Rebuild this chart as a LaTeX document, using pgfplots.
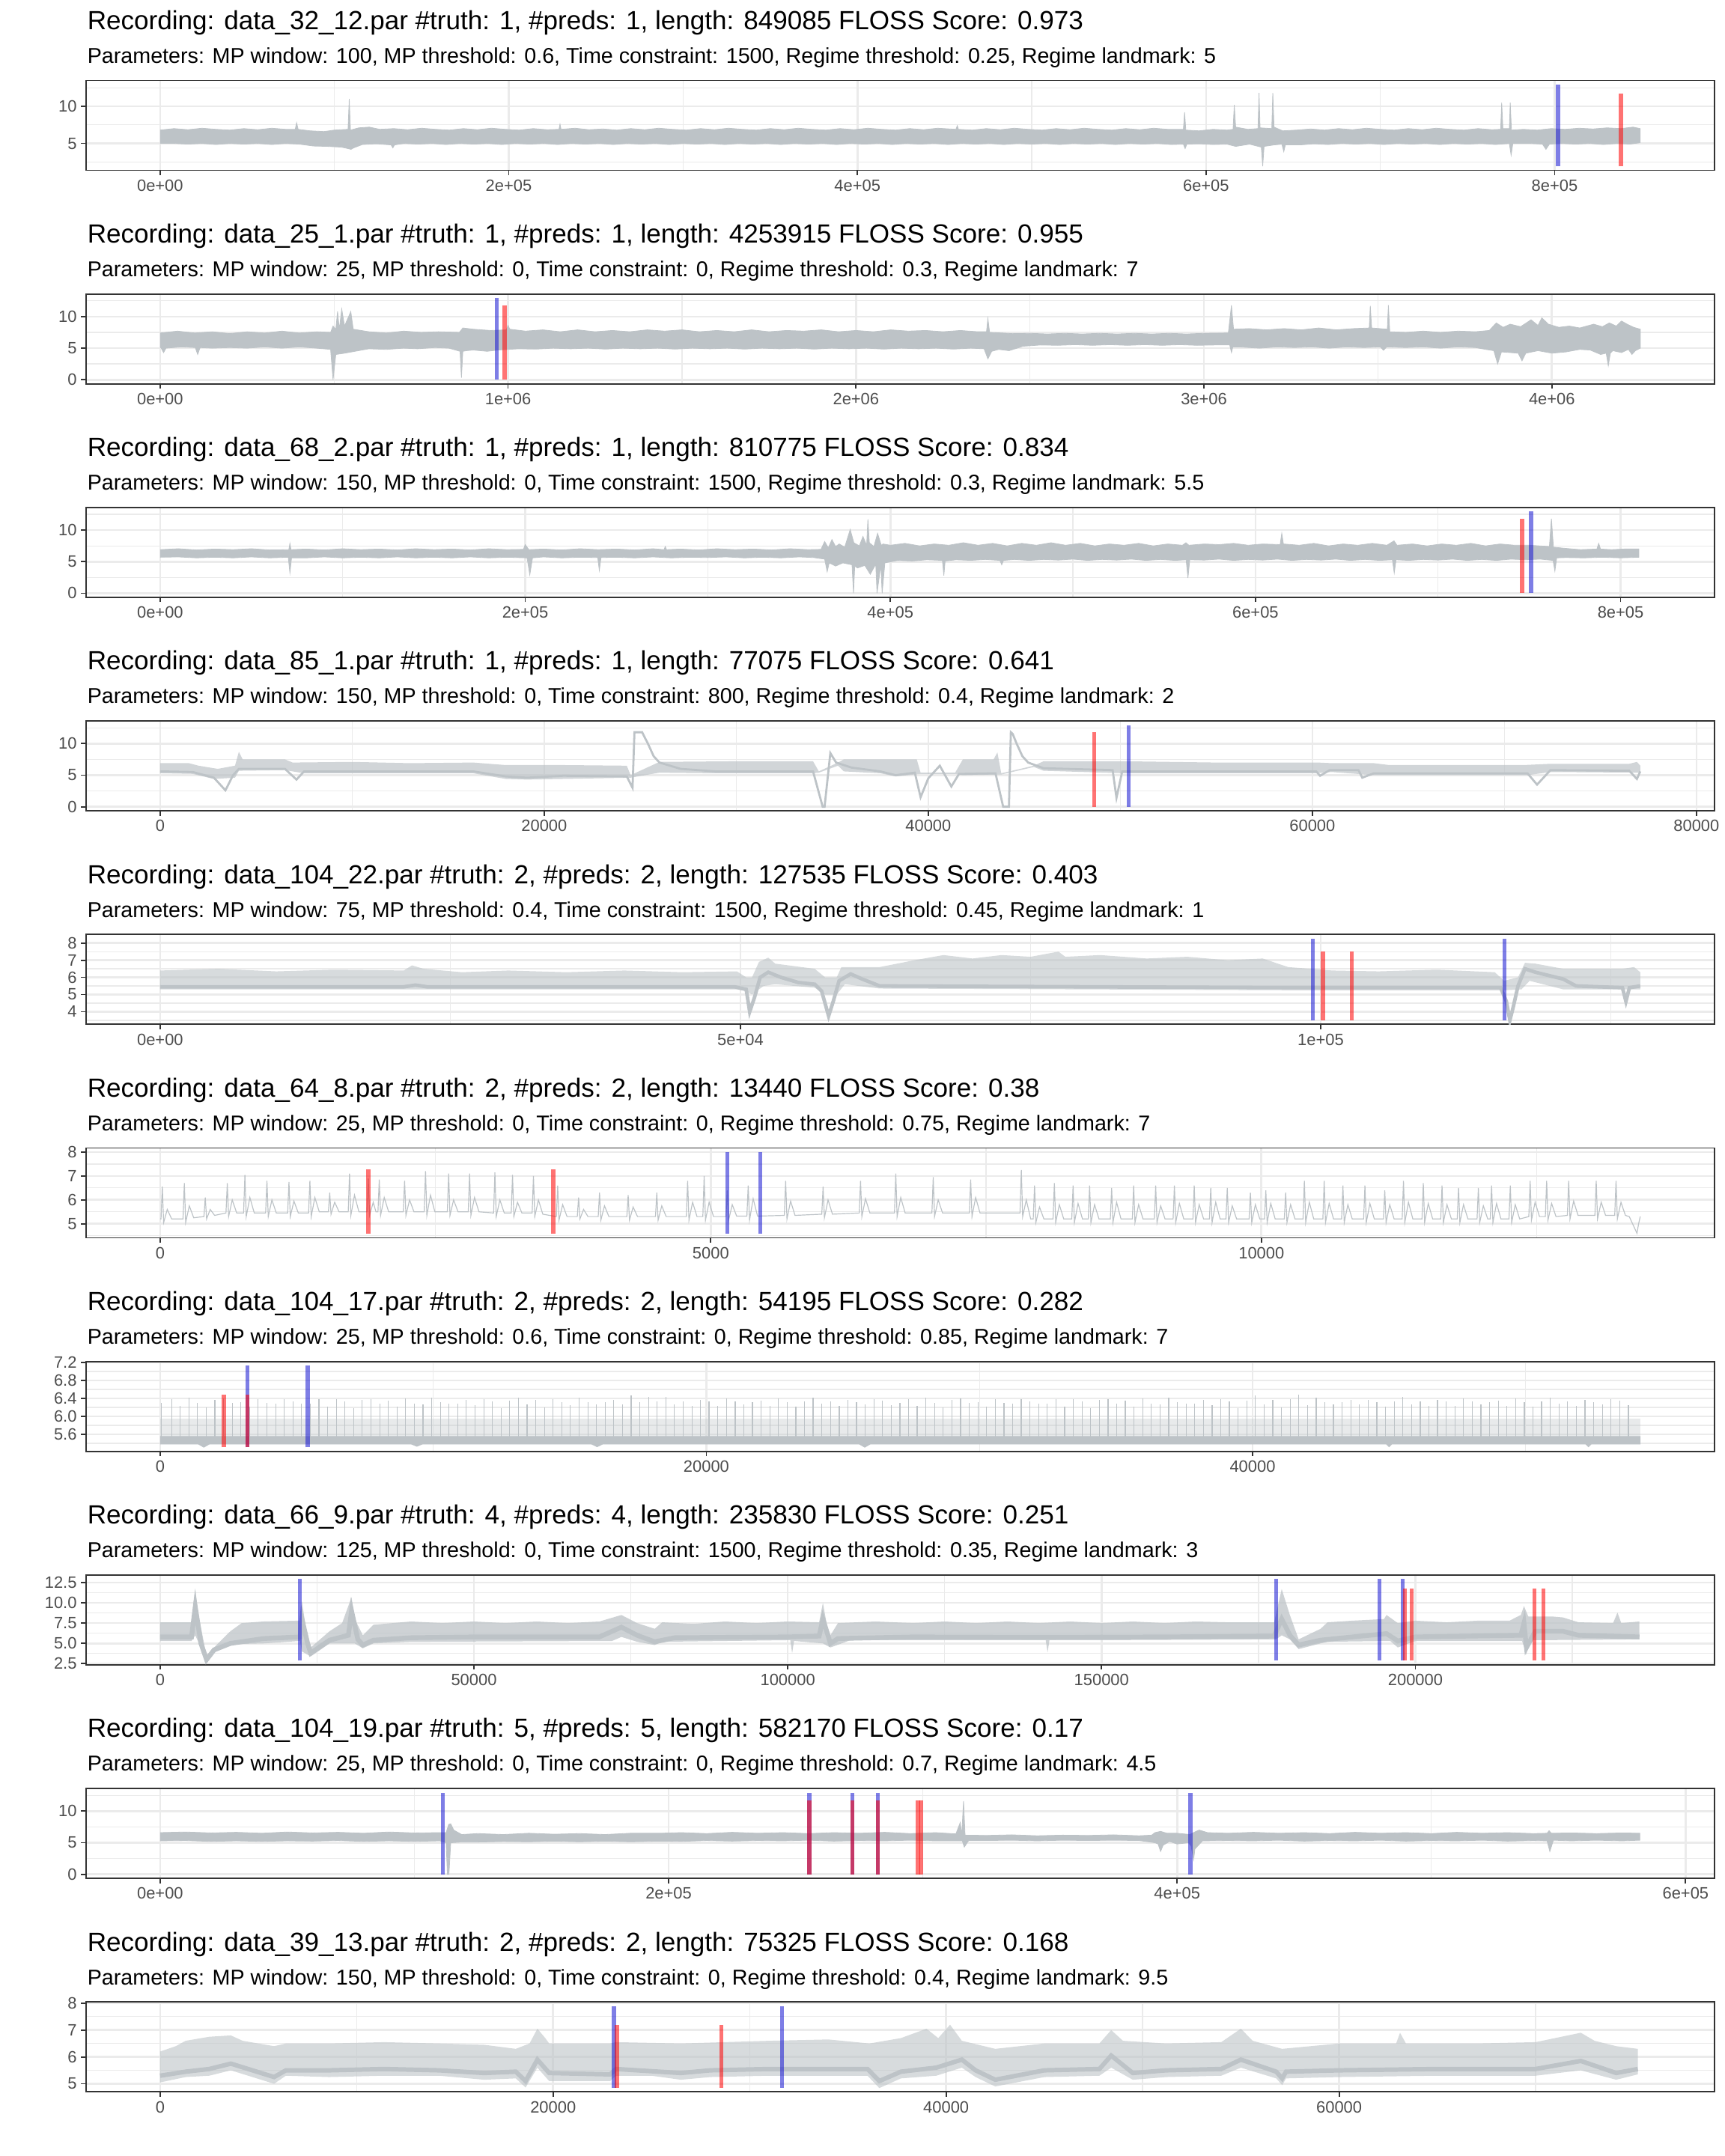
\documentclass[border=0pt]{standalone}
\usepackage{pgfplots}
\pgfplotsset{compat=1.18}
\usepackage{fontspec}
\setmainfont{Liberation Sans}
\definecolor{sigc}{RGB}{189,195,199}
\definecolor{truthc}{RGB}{20,20,210}
\definecolor{predc}{RGB}{255,0,0}
\definecolor{framec}{RGB}{51,51,51}
\definecolor{gridc}{RGB}{235,235,235}
\definecolor{ticktext}{RGB}{77,77,77}
\pgfplotsset{
  panel/.style={
    scale only axis, width=545.7pt, height=30.11pt,
    anchor=north west,
    axis line style={draw=framec, line width=0.45pt},
    tick style={draw=framec, line width=0.45pt},
    major tick length=1.64pt, minor tick length=0pt,
    tick align=outside, tick pos=left,
    xmajorgrids, ymajorgrids, xminorgrids, yminorgrids,
    major grid style={draw=gridc, line width=0.67pt},
    minor grid style={draw=gridc, line width=0.33pt},
    tick label style={font=\fontsize{5.5}{6.5}\selectfont, text=ticktext, inner sep=0pt},
    xticklabel style={yshift=-1.3pt},
    yticklabel style={xshift=-1.3pt},
    scaled ticks=false,
    /pgf/number format/assume math mode=true,
  },
  sig/.style={fill=sigc, draw=sigc, line width=0.2pt},
  siglight/.style={fill=sigc, fill opacity=#1, draw=none},
  sigline/.style={draw=sigc, line width=0.3pt},
  truth/.style={draw=truthc, draw opacity=0.55, line width=1.35pt},
  pred/.style={draw=predc, draw opacity=0.55, line width=1.35pt},
}
\newcommand{\ttl}[2]{\node[anchor=base west, inner sep=0pt, font=\fontsize{8.8}{10}\selectfont] at (29.1pt,#1) {#2};}
\newcommand{\sub}[2]{\node[anchor=base west, inner sep=0pt, font=\fontsize{7.2}{8.5}\selectfont] at (29.1pt,#1) {#2};}
\begin{document}
\begin{tikzpicture}
\useasboundingbox (0,0) rectangle (578.16pt,-722.7pt);
\ttl{-9.836pt}{Recording: data\_32\_12.par \#truth: 1, \#preds: 1, length: 849085 FLOSS Score: 0.973}
\sub{-21.126pt}{Parameters: MP window: 100, MP threshold: 0.6, Time constraint: 1500, Regime threshold: 0.25, Regime landmark: 5}
\ttl{-81.404pt}{Recording: data\_25\_1.par \#truth: 1, \#preds: 1, length: 4253915 FLOSS Score: 0.955}
\sub{-92.694pt}{Parameters: MP window: 25, MP threshold: 0, Time constraint: 0, Regime threshold: 0.3, Regime landmark: 7}
\ttl{-152.972pt}{Recording: data\_68\_2.par \#truth: 1, \#preds: 1, length: 810775 FLOSS Score: 0.834}
\sub{-164.262pt}{Parameters: MP window: 150, MP threshold: 0, Time constraint: 1500, Regime threshold: 0.3, Regime landmark: 5.5}
\ttl{-224.54pt}{Recording: data\_85\_1.par \#truth: 1, \#preds: 1, length: 77075 FLOSS Score: 0.641}
\sub{-235.83pt}{Parameters: MP window: 150, MP threshold: 0, Time constraint: 800, Regime threshold: 0.4, Regime landmark: 2}
\ttl{-296.11pt}{Recording: data\_104\_22.par \#truth: 2, \#preds: 2, length: 127535 FLOSS Score: 0.403}
\sub{-307.40pt}{Parameters: MP window: 75, MP threshold: 0.4, Time constraint: 1500, Regime threshold: 0.45, Regime landmark: 1}
\ttl{-367.68pt}{Recording: data\_64\_8.par \#truth: 2, \#preds: 2, length: 13440 FLOSS Score: 0.38}
\sub{-378.97pt}{Parameters: MP window: 25, MP threshold: 0, Time constraint: 0, Regime threshold: 0.75, Regime landmark: 7}
\ttl{-439.24pt}{Recording: data\_104\_17.par \#truth: 2, \#preds: 2, length: 54195 FLOSS Score: 0.282}
\sub{-450.53pt}{Parameters: MP window: 25, MP threshold: 0.6, Time constraint: 0, Regime threshold: 0.85, Regime landmark: 7}
\ttl{-510.81pt}{Recording: data\_66\_9.par \#truth: 4, \#preds: 4, length: 235830 FLOSS Score: 0.251}
\sub{-522.10pt}{Parameters: MP window: 125, MP threshold: 0, Time constraint: 1500, Regime threshold: 0.35, Regime landmark: 3}
\ttl{-582.38pt}{Recording: data\_104\_19.par \#truth: 5, \#preds: 5, length: 582170 FLOSS Score: 0.17}
\sub{-593.67pt}{Parameters: MP window: 25, MP threshold: 0, Time constraint: 0, Regime threshold: 0.7, Regime landmark: 4.5}
\ttl{-653.95pt}{Recording: data\_39\_13.par \#truth: 2, \#preds: 2, length: 75325 FLOSS Score: 0.168}
\sub{-665.24pt}{Parameters: MP window: 150, MP threshold: 0, Time constraint: 0, Regime threshold: 0.4, Regime landmark: 9.5}

% ---------------- panel 1
\begin{axis}[panel, at={(28.86pt,-26.976pt)},
  xmin=-42454, xmax=891539, ymin=1.38, ymax=13.48,
  xtick={0,200000,400000,600000,800000}, xticklabels={0e+00,2e+05,4e+05,6e+05,8e+05},
  minor xtick={100000,300000,500000,700000},
  ytick={5,10}, yticklabels={5,10}, minor ytick={2.5,7.5,12.5}]
\addplot[sig] coordinates {(0,6.8) (8000,7.0) (16000,6.85) (24000,7.05) (32000,6.9) (40000,6.8) (48000,7.0) (56000,6.85) (64000,7.05) (72000,6.9) (77500,6.9) (78300,7.8) (79200,6.9) (86000,6.7) (94000,6.6) (100000,6.8) (107800,6.9) (108500,11.0) (109200,6.8) (114000,7.1) (120000,7.2) (126000,6.9) (134000,7.0) (142000,6.85) (150000,7.05) (158000,6.9) (166000,6.8) (174000,7.0) (182000,6.85) (190000,7.05) (198000,6.9) (206000,6.8) (214000,7.0) (222000,6.85) (228800,6.9) (229400,7.6) (230000,6.9) (238000,7.05) (246000,6.85) (254000,6.95) (262000,6.8) (270000,7.0) (278000,6.85) (286000,7.05) (294000,6.9) (302000,6.8) (310000,7.0) (318000,6.85) (326000,7.05) (334000,6.9) (342000,6.8) (350000,7.0) (358000,6.85) (366000,7.05) (374000,6.9) (382000,6.8) (390000,7.0) (398000,6.85) (406000,7.05) (414000,6.9) (422000,6.8) (430000,7.0) (438000,6.85) (446000,7.05) (456500,6.9) (457300,7.4) (458000,6.9) (466000,6.8) (474000,7.0) (482000,6.85) (490000,7.05) (498000,6.9) (506000,6.8) (514000,7.0) (522000,6.85) (530000,7.05) (538000,6.9) (546000,6.8) (554000,7.0) (562000,6.85) (570000,7.05) (578000,6.9) (587000,6.9) (587700,9.2) (588400,6.8) (596000,6.7) (604000,6.9) (612000,6.8) (615500,6.9) (616200,10.2) (617000,7.2) (624000,6.9) (629800,7.0) (630400,11.8) (631000,7.1) (637700,7.0) (638300,11.8) (639000,7.2) (644000,6.7) (652000,6.8) (660000,6.95) (668000,6.8) (676000,7.0) (684000,6.85) (692000,7.05) (700000,6.9) (708000,6.8) (716000,7.0) (724000,6.85) (732000,7.05) (740000,6.9) (748000,6.8) (756000,7.0) (764000,6.85) (769000,6.9) (769600,10.5) (770300,7.0) (774000,7.0) (774500,10.5) (775200,6.8) (782000,6.9) (790000,6.8) (798000,7.0) (806000,6.9) (814000,7.05) (822000,6.95) (830000,7.1) (838000,7.0) (845000,7.2) (849000,7.0)
(849000,5.1) (843000,4.9) (836000,5.0) (828000,4.85) (820000,5.0) (812000,4.9) (804000,5.0) (797000,4.9) (795000,4.2) (793000,4.9) (786000,5.0) (776000,5.0) (775000,3.4) (774000,5.0) (766000,4.85) (758000,5.0) (750000,4.9) (742000,5.0) (734000,4.85) (726000,5.0) (718000,4.9) (710000,5.0) (702000,4.85) (694000,5.0) (686000,4.9) (678000,5.0) (670000,4.85) (662000,4.95) (654000,4.8) (645500,4.8) (644600,3.9) (643500,4.9) (639000,4.8) (633300,4.6) (632500,1.93) (631700,4.5) (625000,4.9) (617000,4.6) (612000,4.9) (604000,4.85) (596000,4.95) (589000,4.9) (588000,4.3) (587000,4.9) (580000,4.85) (572000,5.0) (564000,4.9) (556000,5.0) (548000,4.85) (540000,5.0) (532000,4.9) (524000,5.0) (516000,4.85) (508000,5.0) (500000,4.9) (492000,5.0) (484000,4.85) (476000,5.0) (468000,4.9) (460000,5.0) (452000,4.85) (444000,5.0) (436000,4.9) (428000,5.0) (420000,4.85) (412000,5.0) (404000,4.9) (396000,5.0) (388000,4.85) (380000,5.0) (372000,4.9) (364000,5.0) (356000,4.85) (348000,5.0) (340000,4.9) (332000,5.0) (324000,4.85) (316000,5.0) (308000,4.9) (300000,5.0) (292000,4.85) (284000,5.0) (276000,4.9) (268000,5.0) (260000,4.85) (252000,5.0) (244000,4.9) (236000,5.0) (228000,4.85) (220000,5.0) (212000,4.9) (204000,5.0) (196000,4.85) (188000,5.0) (180000,4.9) (172000,5.0) (164000,4.85) (156000,5.0) (148000,4.9) (140000,5.0) (134500,4.8) (133500,4.4) (132500,4.8) (124000,4.95) (116000,4.85) (111000,4.4) (109500,4.2) (108000,4.3) (104000,4.5) (96000,4.6) (88000,4.65) (80000,4.9) (72000,5.0) (64000,4.85) (56000,5.0) (48000,4.9) (40000,5.0) (32000,4.85) (24000,5.0) (16000,4.9) (8000,5.0) (0,5.0)};
\addplot[truth] coordinates {(802000,1.93) (802000,12.93)};
\addplot[pred] coordinates {(838000,1.93) (838000,11.76)};
\end{axis}

% ---------------- panel 2
\begin{axis}[panel, at={(28.86pt,-98.544pt)},
  xmin=-212696, xmax=4466611, ymin=-0.65, ymax=13.58,
  xtick={0,1000000,2000000,3000000,4000000}, xticklabels={0e+00,1e+06,2e+06,3e+06,4e+06},
  minor xtick={500000,1500000,2500000,3500000},
  ytick={0,5,10}, yticklabels={0,5,10}, minor ytick={2.5,7.5,12.5}]
\addplot[sig] coordinates {(0,7.4) (50000,7.7) (100000,7.4) (150000,7.6) (200000,7.3) (250000,7.6) (300000,7.4) (350000,7.7) (400000,7.4) (450000,7.6) (490000,7.5) (497000,8.5) (505000,8.0) (510000,10.8) (515000,8.0) (522000,11.2) (530000,8.5) (548000,10.8) (555000,8.0) (600000,7.6) (650000,7.4) (700000,7.7) (750000,7.5) (800000,7.6) (860000,7.5) (870000,8.2) (900000,8.0) (950000,7.8) (995000,7.9) (1000000,8.6) (1005000,8.0) (1050000,7.7) (1100000,7.9) (1150000,7.6) (1200000,7.9) (1250000,7.6) (1300000,7.8) (1350000,7.6) (1400000,7.9) (1450000,7.7) (1500000,7.9) (1550000,7.6) (1600000,7.8) (1650000,7.6) (1700000,7.9) (1750000,7.6) (1800000,7.8) (1850000,7.7) (1900000,7.9) (1950000,7.6) (2000000,7.8) (2050000,7.6) (2100000,7.9) (2150000,7.7) (2200000,7.8) (2250000,7.6) (2300000,7.8) (2350000,7.6) (2375000,7.6) (2379000,9.7) (2384000,7.5) (2420000,7.4) (2450000,7.3) (2500000,7.35) (2550000,7.25) (2600000,7.35) (2650000,7.25) (2700000,7.35) (2750000,7.25) (2800000,7.35) (2850000,7.25) (2900000,7.35) (2950000,7.25) (3000000,7.35) (3070000,7.4) (3079000,11.8) (3085000,8.0) (3130000,8.1) (3180000,7.9) (3230000,8.1) (3280000,7.9) (3330000,8.2) (3380000,7.9) (3430000,8.1) (3475000,8.2) (3478000,11.7) (3482000,8.2) (3527000,8.0) (3530000,11.8) (3534000,7.6) (3580000,7.5) (3630000,7.7) (3680000,7.5) (3730000,7.7) (3780000,7.6) (3820000,7.8) (3840000,9.0) (3860000,8.3) (3880000,8.8) (3910000,8.4) (3940000,9.5) (3960000,8.6) (3971000,9.8) (3990000,8.8) (4020000,8.3) (4050000,8.5) (4080000,8.2) (4120000,8.8) (4145000,8.4) (4165000,9.0) (4185000,8.5) (4200000,9.3) (4216000,8.8) (4235000,8.3) (4254000,8.0)
(4254000,5.0) (4240000,4.6) (4230000,4.0) (4220000,4.8) (4200000,4.3) (4175000,4.6) (4168000,4.2) (4162000,2.2) (4156000,4.2) (4140000,4.0) (4110000,4.7) (4080000,4.8) (4040000,4.4) (4000000,4.2) (3960000,4.6) (3925000,4.2) (3914000,3.0) (3903000,4.2) (3880000,4.3) (3855000,4.4) (3844000,2.5) (3833000,4.6) (3810000,4.8) (3780000,5.1) (3730000,5.2) (3680000,5.0) (3630000,5.2) (3580000,5.1) (3525000,5.2) (3516000,4.65) (3507000,5.2) (3460000,5.1) (3410000,5.2) (3360000,5.0) (3310000,5.2) (3260000,5.1) (3210000,5.2) (3160000,5.0) (3100000,5.2) (3083000,5.2) (3079000,4.3) (3074000,5.5) (3030000,5.5) (2980000,5.45) (2930000,5.55) (2880000,5.45) (2830000,5.55) (2780000,5.45) (2730000,5.55) (2680000,5.45) (2630000,5.55) (2580000,5.45) (2530000,5.5) (2480000,5.3) (2440000,4.6) (2410000,4.8) (2390000,4.5) (2379000,3.3) (2368000,4.9) (2330000,5.0) (2280000,4.85) (2230000,5.0) (2180000,4.9) (2130000,5.0) (2080000,4.85) (2030000,5.0) (1980000,4.9) (1930000,5.0) (1880000,4.85) (1830000,5.0) (1780000,4.9) (1730000,5.0) (1680000,4.85) (1630000,5.0) (1580000,4.9) (1530000,5.0) (1480000,4.85) (1430000,5.0) (1380000,4.9) (1330000,5.0) (1280000,4.85) (1230000,5.0) (1180000,4.9) (1130000,5.0) (1080000,4.85) (1030000,4.9) (1000000,4.8) (970000,4.7) (940000,4.5) (900000,4.7) (880000,4.6) (870000,4.5) (866000,0.3) (862000,4.5) (830000,5.0) (790000,5.1) (740000,4.9) (700000,5.0) (650000,4.8) (600000,4.9) (560000,4.5) (530000,4.2) (505000,4.0) (497000,0.0) (490000,4.8) (450000,5.0) (400000,5.2) (350000,5.0) (300000,5.2) (250000,5.0) (200000,5.1) (150000,5.0) (115000,5.1) (108000,4.0) (101000,5.1) (60000,5.2) (17000,5.0) (10000,4.3) (3000,5.0) (0,5.2)};
\addplot[truth] coordinates {(968000,0) (968000,12.93)};
\addplot[pred] coordinates {(990000,0) (990000,11.76)};
\end{axis}

% ---------------- panel 3
\begin{axis}[panel, at={(28.86pt,-170.112pt)},
  xmin=-40539, xmax=851314, ymin=-0.65, ymax=13.58,
  xtick={0,200000,400000,600000,800000}, xticklabels={0e+00,2e+05,4e+05,6e+05,8e+05},
  minor xtick={100000,300000,500000,700000},
  ytick={0,5,10}, yticklabels={0,5,10}, minor ytick={2.5,7.5,12.5}]
\addplot[sig] coordinates {(0,6.9) (10000,7.05) (20000,6.85) (30000,7.0) (40000,6.9) (50000,7.05) (60000,6.85) (70500,6.9) (71100,7.9) (71700,6.9) (80000,7.0) (90000,6.85) (100000,7.05) (110000,6.9) (120000,7.0) (130000,6.85) (140000,7.05) (150000,6.9) (160000,7.0) (170000,6.85) (180000,7.05) (190000,6.9) (199000,6.95) (200000,7.7) (202000,6.9) (210000,7.0) (220000,6.85) (230000,7.05) (240000,6.9) (250000,7.0) (260000,6.85) (270000,7.05) (276000,6.9) (276700,7.4) (277400,6.9) (285000,7.0) (295000,6.85) (305000,7.05) (315000,6.9) (325000,7.0) (335000,6.85) (345000,7.05) (355000,6.9) (362000,6.95) (364000,8.2) (366000,7.2) (368000,8.5) (370000,7.4) (372000,7.8) (375000,7.3) (378000,10.1) (380000,8.0) (383000,7.5) (385000,9.0) (387000,7.6) (387700,11.7) (388500,8.0) (391000,7.4) (393000,9.5) (395000,7.6) (396000,7.8) (400000,7.6) (408000,7.9) (416000,7.5) (424000,7.8) (432000,7.6) (440000,8.0) (448000,7.6) (456000,7.9) (464000,7.5) (472000,7.9) (480000,7.6) (488000,8.0) (496000,7.6) (504000,7.9) (512000,7.5) (520000,7.8) (528000,7.6) (536000,7.9) (544000,7.5) (552000,7.8) (560000,7.6) (561900,8.0) (563500,7.6) (572000,7.8) (580000,7.7) (588000,7.9) (596000,7.6) (604000,7.8) (613500,7.7) (614400,9.5) (615300,7.8) (624000,7.6) (632000,7.9) (640000,7.5) (648000,7.8) (656000,7.6) (664000,7.9) (672000,7.6) (675900,8.3) (677500,7.6) (686000,7.8) (694000,7.5) (702000,7.8) (710000,7.6) (718000,7.9) (726000,7.5) (734000,7.8) (742000,7.6) (750000,7.6) (761000,7.4) (762100,11.8) (763200,7.3) (770000,7.1) (778000,6.9) (787000,7.0) (788000,7.9) (789000,7.0) (795000,6.9) (802000,7.0) (810000,7.0)
(810000,5.7) (800000,5.6) (790000,5.7) (780000,5.6) (770000,5.65) (765000,5.6) (764000,3.5) (763000,5.2) (756000,5.4) (748000,5.3) (740000,5.4) (732000,5.2) (724000,5.35) (716000,5.2) (708000,5.4) (700000,5.25) (692000,5.35) (684000,5.2) (677000,5.3) (676000,3.2) (675000,5.3) (668000,5.2) (660000,5.35) (652000,5.2) (644000,5.4) (636000,5.25) (628000,5.35) (620000,5.2) (612000,5.4) (604000,5.25) (596000,5.35) (588000,5.2) (580000,5.4) (572000,5.25) (564000,5.3) (563000,2.4) (562000,5.3) (556000,5.2) (548000,5.35) (540000,5.2) (532000,5.4) (524000,5.25) (516000,5.35) (508000,5.2) (500000,5.4) (492000,5.25) (484000,5.35) (476000,5.2) (468000,5.35) (462000,5.2) (461000,4.5) (460000,5.2) (452000,5.35) (444000,5.2) (436000,5.3) (430000,5.1) (429300,2.8) (428500,5.2) (420000,5.3) (412000,5.1) (404000,5.2) (397000,4.8) (395500,0.0) (394800,4.5) (392700,0.0) (392000,4.6) (389000,3.0) (386000,4.4) (382000,4.0) (380500,4.3) (379800,0.0) (379000,4.5) (374000,4.8) (370000,4.3) (366500,4.8) (365400,3.4) (364000,5.4) (358000,5.65) (350000,5.75) (340000,5.6) (330000,5.7) (320000,5.6) (310000,5.75) (300000,5.65) (290000,5.7) (280000,5.6) (270000,5.75) (260000,5.6) (250000,5.7) (241500,5.65) (240600,3.6) (239700,5.65) (230000,5.7) (220000,5.6) (210000,5.75) (204000,5.6) (202500,2.9) (201000,5.6) (190000,5.7) (180000,5.6) (170000,5.75) (160000,5.6) (150000,5.7) (140000,5.6) (130000,5.75) (120000,5.6) (110000,5.7) (100000,5.6) (90000,5.75) (80000,5.6) (72000,5.6) (71100,3.2) (70200,5.7) (60000,5.6) (50000,5.75) (40000,5.6) (30000,5.7) (20000,5.6) (10000,5.75) (0,5.7)};
\addplot[pred] coordinates {(746000,0) (746000,11.76)};
\addplot[truth] coordinates {(751000,0) (751000,12.93)};
\end{axis}

% ---------------- panel 4
\begin{axis}[panel, at={(28.86pt,-241.68pt)},
  xmin=-3854, xmax=80929, ymin=-0.65, ymax=13.58,
  xtick={0,20000,40000,60000,80000}, xticklabels={0,20000,40000,60000,80000},
  minor xtick={10000,30000,50000,70000},
  ytick={0,5,10}, yticklabels={0,5,10}, minor ytick={2.5,7.5,12.5}]
\addplot[siglight=0.7] coordinates {(0,6.9) (1500,6.9) (2000,6.5) (3000,6.0) (3900,6.5) (4100,8.7) (4300,7.5) (6500,7.5) (6900,7.0) (10000,7.1) (13000,6.9) (16300,7.0) (18000,6.6) (21000,6.6) (24300,6.5) (24500,5.0) (26000,7.1) (30000,7.2) (34000,7.2) (34300,5.6) (35300,7.0) (35600,7.5) (39400,7.5) (39600,5.4) (41400,5.4) (41800,7.5) (43400,7.5) (43600,8.6) (43800,5.3) (45500,6.5) (46000,7.2) (49700,7.2) (50200,7.2) (55000,7.0) (60300,7.0) (61000,6.9) (63200,6.9) (64000,6.6) (71000,6.6) (72400,6.8) (76500,6.8) (76900,7.1) (77075,6.5)
(77075,5.4) (72400,5.5) (71200,5.0) (63200,5.0) (61000,5.5) (60200,5.3) (50200,5.3) (46000,5.7) (45500,6.3) (43800,5.1) (41800,5.0) (41400,5.2) (39600,5.2) (38300,4.8) (37500,5.3) (35600,5.6) (35300,6.5) (34300,5.4) (34000,5.3) (28900,5.3) (26000,5.4) (24500,4.6) (19100,4.3) (18000,4.4) (16300,5.3) (7500,5.3) (6500,5.8) (4100,5.7) (3900,4.6) (2800,4.4) (1700,5.2) (0,5.3)};
\addplot[draw=sigc, line width=0.7pt] coordinates {(0,5.6) (1700,5.5) (2800,4.6) (3400,2.6) (3800,5.0) (4100,6.0) (6500,6.0) (7100,4.3) (7500,5.6) (16300,5.6) (18000,4.8) (19100,4.6) (21000,4.9) (24300,4.8) (24600,3.0) (24700,11.8) (25100,11.8) (25400,10.0) (25700,8.0) (26000,7.0) (27100,6.0) (28900,5.6) (34000,5.6) (34500,0.0) (34600,0.0) (34900,8.5) (35200,7.0) (36000,6.2) (37500,5.6) (38300,5.0) (39300,5.4) (39600,1.5) (40000,4.5) (40600,6.5) (41200,3.2) (41600,5.2) (43500,5.3) (43900,0.0) (44200,0.0) (44300,11.8) (44400,11.5) (44600,10.0) (44900,8.0) (45200,7.0) (46000,6.1) (49600,5.8) (49800,1.4) (50100,5.6) (60200,5.6) (60400,4.9) (60900,5.8) (62400,5.8) (62600,4.6) (63200,5.3) (71200,5.3) (71700,3.5) (72400,5.8) (76500,5.7) (76900,4.4) (77075,5.6)};
\addplot[pred] coordinates {(48650,0) (48650,11.76)};
\addplot[truth] coordinates {(50430,0) (50430,12.93)};
\end{axis}

% ---------------- panel 5
\begin{axis}[panel, at={(28.86pt,-313.25pt)},
  xmin=-6377, xmax=133912, ymin=3.262, ymax=8.498,
  xtick={0,50000,100000}, xticklabels={0e+00,5e+04,1e+05},
  minor xtick={25000,75000,125000},
  ytick={4,5,6,7,8}, yticklabels={4,5,6,7,8}, minor ytick={3.5,4.5,5.5,6.5,7.5,8.5}]
\addplot[siglight=0.6] coordinates {(0,6.4) (5000,6.5) (10000,6.35) (15000,6.45) (21000,6.4) (21700,6.7) (22700,6.5) (26000,6.3) (30000,6.4) (35000,6.3) (40000,6.4) (45000,6.3) (49700,6.35) (50500,6.0) (51000,6.0) (51600,6.9) (52400,7.15) (53000,6.8) (56400,6.5) (57300,6.0) (58300,6.0) (58700,6.6) (62000,6.6) (65000,7.0) (67500,7.3) (70000,7.1) (72500,7.3) (75000,7.2) (77400,7.5) (78000,7.2) (81000,7.3) (85000,7.1) (88500,7.2) (92000,7.0) (95000,7.1) (97200,6.6) (101000,6.4) (105000,6.35) (110000,6.45) (115000,6.3) (115800,5.8) (117000,6.0) (117600,6.85) (118500,6.8) (120900,6.5) (126000,6.5) (127000,6.6) (127535,6.3)
(127535,5.3) (120900,5.3) (118000,5.8) (117300,5.3) (115800,5.25) (97000,5.25) (80000,5.3) (62000,5.35) (59000,5.6) (58300,5.0) (57300,5.0) (56400,5.4) (53000,5.6) (52000,5.5) (51000,5.0) (50500,5.2) (49700,5.3) (23000,5.3) (21000,5.3) (0,5.3)};
\addplot[draw=sigc, line width=1.2pt] coordinates {(0,5.45) (21000,5.45) (22000,5.55) (23000,5.45) (49500,5.45) (50500,5.3) (50800,4.0) (51200,4.8) (51700,6.0) (52400,6.3) (53500,6.0) (55000,5.7) (56400,5.6) (57000,5.2) (57600,3.75) (58000,4.6) (58500,5.8) (59500,6.2) (60500,5.9) (62000,5.5) (80000,5.45) (97000,5.4) (115500,5.4) (116000,4.6) (116300,3.5) (116600,4.3) (117000,5.5) (117600,6.5) (118500,6.3) (120900,5.9) (122000,5.5) (126000,5.4) (126300,4.6) (126600,5.4) (127535,5.5)};
\addplot[truth] coordinates {(99340,3.5) (99340,8.26)};
\addplot[truth] coordinates {(115850,3.5) (115850,8.26)};
\addplot[pred] coordinates {(100190,3.5) (100190,7.51)};
\addplot[pred] coordinates {(102660,3.5) (102660,7.51)};
\end{axis}

% ---------------- panel 6
\begin{axis}[panel, at={(28.86pt,-384.82pt)},
  xmin=-672, xmax=14112, ymin=4.409, ymax=8.171,
  xtick={0,5000,10000}, xticklabels={0,5000,10000},
  minor xtick={2500,7500,12500},
  ytick={5,6,7,8}, yticklabels={5,6,7,8}, minor ytick={4.5,5.5,6.5,7.5}]
\addplot[sigline] coordinates {(0,5.2) (8,5.2) (20,6.55) (32,5.05) (65,5.6) (105,5.2) (208,5.2) (220,6.7) (232,5.05) (265,5.75) (305,5.25) (398,5.3) (410,6.1) (422,5.2) (455,5.6) (495,5.35)
(598,5.45) (610,6.7) (622,5.3) (655,6.0) (695,5.45) (758,5.45) (770,7.05) (782,5.3) (815,6.1) (855,5.45) (958,5.45) (970,6.8) (982,5.3) (1015,6.0) (1055,5.45) (1158,5.45) (1170,6.75) (1182,5.3) (1215,5.95) (1255,5.45) (1348,5.45) (1360,6.8) (1372,5.3) (1405,6.1) (1445,5.5)
(1528,5.5) (1540,6.3) (1552,5.4) (1585,5.9) (1625,5.5) (1708,5.5) (1720,7.1) (1732,5.35) (1765,6.2) (1805,5.5) (1878,5.5) (1890,6.9) (1902,5.35) (1935,5.9) (1960,5.5) (1978,5.5) (1990,6.85) (2002,5.35) (2035,6.1) (2075,5.5) (2208,5.5) (2220,6.8) (2232,5.35) (2265,6.0) (2305,5.5) (2398,5.5) (2410,7.2) (2422,5.35) (2455,6.2) (2495,5.5) (2608,5.5) (2620,7.1) (2632,5.35) (2665,6.0) (2705,5.5) (2798,5.5) (2810,7.1) (2822,5.35) (2855,6.1) (2895,5.5) (3028,5.45) (3040,7.15) (3052,5.3) (3085,6.0) (3125,5.45) (3188,5.45) (3200,7.05) (3212,5.3) (3245,5.9) (3285,5.45) (3378,5.45) (3390,7.0) (3402,5.3) (3435,6.0) (3475,5.4)
(3598,5.3) (3610,6.6) (3622,5.15) (3655,5.8) (3695,5.3) (3788,5.3) (3800,6.1) (3812,5.2) (3845,5.6) (3885,5.3) (3978,5.3) (3990,6.3) (4002,5.15) (4035,5.75) (4075,5.3) (4238,5.3) (4250,6.2) (4262,5.15) (4295,5.7) (4335,5.3) (4498,5.3) (4510,6.3) (4522,5.15) (4555,5.75) (4595,5.3) (4778,5.3) (4790,6.8) (4802,5.15) (4835,5.9) (4875,5.3) (4928,5.3) (4940,7.0) (4952,5.15) (4985,5.9) (5025,5.3) (5138,5.3) (5150,6.4) (5162,5.15) (5195,5.8) (5235,5.32) (5328,5.32) (5340,6.6) (5352,5.15) (5385,6.05) (5425,5.32) (5668,5.35) (5680,6.8) (5692,5.2) (5725,5.95) (5765,5.35) (6008,5.4) (6020,6.55) (6032,5.25) (6065,6.0) (6105,5.4)
(6348,5.45) (6360,6.8) (6372,5.3) (6405,6.05) (6445,5.45) (6668,5.45) (6680,7.1) (6692,5.3) (6725,6.1) (6765,5.45) (7008,5.45) (7020,6.95) (7032,5.3) (7065,6.0) (7105,5.45) (7348,5.45) (7360,6.85) (7372,5.3) (7405,6.1) (7445,5.45) (7808,5.45) (7820,7.25) (7832,5.3) (7865,6.0) (7905,5.2)
(7928,5.2) (7940,6.6) (7952,5.05) (7985,5.7) (8025,5.2) (8108,5.2) (8120,6.7) (8132,5.05) (8165,5.8) (8205,5.2) (8278,5.2) (8290,6.6) (8302,5.05) (8335,5.85) (8375,5.2) (8428,5.2) (8440,6.6) (8452,5.05) (8485,5.8) (8525,5.2) (8628,5.2) (8640,6.5) (8652,5.05) (8685,5.9) (8725,5.2) (8828,5.2) (8840,6.6) (8852,5.05) (8885,5.8) (8925,5.2) (9028,5.2) (9040,6.6) (9052,5.05) (9085,5.75) (9125,5.2) (9198,5.2) (9210,6.6) (9222,5.05) (9255,5.85) (9295,5.2) (9378,5.2) (9390,6.6) (9402,5.05) (9435,5.8) (9475,5.2) (9528,5.2) (9540,6.5) (9552,5.05) (9585,5.9) (9625,5.2) (9678,5.2) (9690,6.5) (9702,5.05) (9735,5.75) (9775,5.2) (9888,5.2) (9900,6.3) (9912,5.05) (9945,5.8) (9985,5.2) (10028,5.2) (10040,6.4) (10052,5.05) (10085,5.85) (10125,5.2) (10208,5.2) (10220,6.3) (10232,5.05) (10265,5.8) (10305,5.2) (10378,5.2) (10390,6.8) (10402,5.05) (10435,5.9) (10475,5.2) (10558,5.2) (10570,6.8) (10582,5.05) (10615,5.85) (10655,5.2) (10728,5.2) (10740,6.6) (10752,5.05) (10785,5.8) (10825,5.2) (10928,5.2) (10940,6.6) (10952,5.05) (10985,5.85) (11025,5.2) (11108,5.2) (11120,6.4) (11132,5.05) (11165,5.8) (11205,5.2) (11278,5.2) (11290,6.8) (11302,5.05) (11335,5.9) (11375,5.2) (11458,5.2) (11470,6.7) (11482,5.05) (11515,5.85) (11555,5.2) (11628,5.2) (11640,6.6) (11652,5.05) (11685,5.8) (11725,5.2) (11778,5.2) (11790,6.5) (11802,5.05) (11835,5.8) (11875,5.2) (11958,5.2) (11970,6.5) (11982,5.05) (12015,5.75) (12055,5.2) (12078,5.2) (12090,6.6) (12102,5.05) (12135,5.85) (12175,5.2) (12248,5.2) (12260,6.6) (12272,5.05) (12305,5.8) (12345,5.2) (12428,5.3) (12440,6.8) (12452,5.15) (12485,5.9) (12525,5.3) (12578,5.3) (12590,6.8) (12602,5.15) (12635,5.85) (12675,5.3) (12778,5.35) (12790,6.8) (12802,5.2) (12835,5.95) (12875,5.35) (13028,5.35) (13040,6.8) (13052,5.2) (13085,5.9) (13125,5.35) (13208,5.35) (13220,6.8) (13232,5.2) (13265,5.9) (13305,5.35) (13340,5.3) (13380,4.9) (13410,4.6) (13425,5.0) (13440,5.3)};
\addplot[pred] coordinates {(1890,4.58) (1890,7.27)};
\addplot[pred] coordinates {(3570,4.58) (3570,7.27)};
\addplot[truth] coordinates {(5150,4.58) (5150,8.0)};
\addplot[truth] coordinates {(5450,4.58) (5450,8.0)};
\end{axis}

% ---------------- panel 7
\begin{axis}[panel, at={(28.86pt,-456.38pt)},
  xmin=-2710, xmax=56905, ymin=5.219, ymax=7.221,
  xtick={0,20000,40000}, xticklabels={0,20000,40000},
  minor xtick={10000,30000,50000},
  ytick={5.6,6.0,6.4,6.8,7.2}, yticklabels={5.6,6.0,6.4,6.8,7.2}, minor ytick={5.4,5.8,6.2,6.6,7.0}]
\addplot[siglight=0.35] coordinates {(0,5.55) (54195,5.55) (54195,5.95) (0,5.95)};
\addplot[sig] coordinates {(0,5.55) (54195,5.55) (54195,5.38) (52400,5.38) (52300,5.32) (52200,5.38) (45100,5.38) (45000,5.32) (44900,5.38) (26000,5.38) (25800,5.31) (25600,5.38) (16200,5.38) (16000,5.32) (15800,5.38) (9600,5.38) (9400,5.33) (9200,5.38) (1800,5.38) (1600,5.31) (1400,5.38) (0,5.38)};
\addplot[draw=none, mark=none, error bars/.cd, y dir=plus, y explicit, error mark=none, error bar style={draw=sigc, line width=0.3pt}] table[x=x, y=y, y error plus=e] {
x y e
40 5.42 0.88
420 5.43 0.95
735 5.41 0.82
1050 5.44 0.97
1370 5.40 0.90
1690 5.42 0.78
2005 5.43 0.93
2320 5.41 0.99
2640 5.44 0.86
2960 5.40 0.92
3275 5.42 0.80
3590 5.43 0.96
3910 5.41 0.89
4230 5.44 0.84
4545 5.40 0.98
4860 5.42 0.91
5180 5.43 0.85
5500 5.41 0.88
5815 5.44 0.95
6130 5.40 0.82
6450 5.42 0.97
6770 5.43 0.90
7085 5.41 0.78
7400 5.44 0.93
7720 5.40 0.99
8040 5.42 0.86
8355 5.43 0.92
8670 5.41 0.80
8990 5.44 0.96
9310 5.40 0.89
9625 5.42 0.84
9940 5.43 0.98
10260 5.41 0.91
10580 5.44 0.85
10895 5.40 0.88
11210 5.42 0.95
11530 5.43 0.82
11850 5.41 0.97
12165 5.44 0.90
12480 5.40 0.78
12800 5.42 0.93
13120 5.43 0.99
13435 5.41 0.86
13750 5.44 0.92
14070 5.40 0.80
14390 5.42 0.96
14705 5.43 0.89
15020 5.41 0.84
15340 5.44 0.98
15660 5.40 0.91
15975 5.42 0.85
16290 5.43 0.88
16610 5.41 0.95
16930 5.44 0.82
17245 5.40 1.07
17560 5.42 0.90
17880 5.43 1.00
18200 5.41 0.93
18515 5.44 0.99
18830 5.40 0.86
19150 5.42 0.92
19470 5.43 0.80
19785 5.41 0.96
20100 5.44 0.89
20420 5.40 0.84
20740 5.42 0.98
21055 5.43 0.91
21370 5.41 0.85
21690 5.44 0.88
22010 5.40 0.95
22325 5.42 0.82
22640 5.43 0.97
22960 5.41 0.90
23280 5.44 0.78
23595 5.40 0.93
23910 5.42 0.99
24230 5.43 0.86
24550 5.41 0.92
24865 5.44 0.80
25180 5.40 0.96
25500 5.42 0.89
25820 5.43 0.84
26135 5.41 0.98
26450 5.44 0.91
26770 5.40 0.85
27090 5.42 0.88
27405 5.43 0.95
27720 5.41 0.82
28040 5.44 0.97
28360 5.40 0.90
28675 5.42 0.78
28990 5.43 0.93
29310 5.41 0.99
29630 5.44 0.86
29945 5.40 0.92
30260 5.42 0.80
30580 5.43 0.96
30900 5.41 0.89
31215 5.44 0.84
31530 5.40 0.98
31850 5.42 0.91
32170 5.43 0.85
32485 5.41 0.88
32800 5.44 0.95
33120 5.40 0.82
33440 5.42 0.97
33755 5.43 0.90
34070 5.41 0.78
34390 5.44 0.93
34710 5.40 0.99
35025 5.42 0.86
35340 5.43 0.92
35660 5.41 0.80
35980 5.44 0.96
36295 5.40 0.89
36610 5.42 0.84
36930 5.43 0.98
37250 5.41 0.91
37565 5.44 0.85
37880 5.40 0.88
38200 5.42 0.95
38520 5.43 0.82
38835 5.41 0.97
39150 5.44 0.90
39470 5.40 0.78
39790 5.42 0.93
40105 5.43 1.04
40420 5.41 0.86
40740 5.44 0.92
41060 5.40 0.80
41375 5.42 0.96
41690 5.43 1.05
42010 5.41 0.84
42330 5.44 0.98
42645 5.40 0.91
42960 5.42 0.85
43280 5.43 0.88
43600 5.41 0.95
43915 5.44 0.82
44230 5.40 0.97
44550 5.42 0.90
44870 5.43 0.78
45185 5.41 0.93
45500 5.44 0.99
45820 5.40 0.86
46140 5.42 0.92
46455 5.43 0.80
46770 5.41 0.96
47090 5.44 0.89
47410 5.40 0.84
47725 5.42 0.98
48040 5.43 0.91
48360 5.41 0.85
48680 5.44 0.88
48995 5.40 0.95
49310 5.42 0.82
49630 5.43 0.97
49950 5.41 0.90
50265 5.44 0.78
50580 5.40 0.93
50900 5.42 0.99
51220 5.43 0.86
51535 5.41 0.92
51850 5.44 0.80
52170 5.40 0.96
52490 5.42 0.89
52805 5.43 0.84
53120 5.41 0.98
53440 5.44 0.91
53760 5.40 0.85
};
\addplot[truth] coordinates {(3200,5.31) (3200,7.13)};
\addplot[truth] coordinates {(5400,5.31) (5400,7.13)};
\addplot[pred] coordinates {(2330,5.31) (2330,6.48)};
\addplot[pred] coordinates {(3200,5.31) (3200,6.48)};
\end{axis}

% ---------------- panel 8
\begin{axis}[panel, at={(28.86pt,-527.95pt)},
  xmin=-11792, xmax=247622, ymin=2.357, ymax=13.423,
  xtick={0,50000,100000,150000,200000}, xticklabels={0,50000,100000,150000,200000},
  minor xtick={25000,75000,125000,175000,225000},
  ytick={2.5,5,7.5,10,12.5}, yticklabels={2.5,5.0,7.5,10.0,12.5}, minor ytick={3.75,6.25,8.75,11.25}]
\addplot[siglight=0.75] coordinates {(0,7.6) (5000,7.6) (5600,11.8) (6000,9.0) (7000,5.0) (7400,3.2) (8600,4.5) (11200,6.5) (13000,7.5) (16500,7.7) (22000,7.8) (22300,7.8) (22600,10.2) (23200,7.0) (24000,4.5) (27000,6.5) (29000,7.5) (30500,10.7) (31000,8.0) (32300,6.0) (34000,7.3) (40000,7.7) (45000,7.5) (50000,7.7) (55000,7.5) (60000,7.7) (65000,7.5) (70000,7.7) (73500,8.5) (76000,7.5) (78800,6.8) (80000,7.6) (85000,7.4) (90000,7.7) (95000,7.5) (100000,7.7) (105000,7.6) (105600,10.0) (106300,7.0) (106800,6.0) (108000,7.5) (114000,7.7) (120000,7.5) (125000,7.7) (130000,7.5) (135000,7.7) (140000,7.5) (145000,7.7) (150000,7.5) (155000,7.7) (160000,7.5) (165000,7.7) (170000,7.6) (177500,7.6) (178700,11.7) (180000,8.5) (181400,5.5) (184900,6.8) (186000,7.6) (190000,7.8) (195000,8.0) (195400,8.5) (197200,7.5) (200000,7.8) (205000,7.6) (210000,7.8) (215000,7.8) (216800,8.5) (217300,9.6) (218000,8.3) (222000,8.3) (223500,8.2) (226000,7.6) (231500,7.5) (232200,8.8) (232800,7.5) (235700,7.7)
(235700,5.5) (220000,5.4) (218000,5.4) (217700,3.6) (217000,5.3) (200000,5.3) (197200,4.5) (196000,5.3) (186000,5.2) (184900,5.0) (181400,4.3) (180000,5.5) (178700,6.0) (177800,5.5) (150000,5.4) (141700,5.4) (141400,3.9) (141100,5.4) (110000,5.4) (106800,4.5) (105600,5.0) (101000,5.3) (100700,3.8) (100400,5.4) (80000,5.2) (78800,4.8) (76000,5.2) (73500,5.8) (72000,5.3) (40000,5.2) (34000,5.0) (32300,4.4) (31000,5.0) (27000,5.0) (24000,3.4) (22600,4.0) (22300,5.3) (16500,5.0) (11200,4.9) (8600,3.9) (7400,2.8) (6500,4.5) (5600,6.0) (5000,5.3) (0,5.3)};
\addplot[draw=sigc, line width=1.6pt] coordinates {(0,5.8) (5000,5.8) (5600,9.5) (6500,5.0) (7400,3.0) (8600,4.2) (11200,5.0) (16500,5.6) (22300,5.8) (22600,8.0) (23500,5.0) (24000,3.8) (27000,5.4) (30000,6.0) (30500,9.0) (31500,5.5) (32300,4.8) (34000,5.4) (40000,5.7) (50000,5.8) (60000,5.8) (70000,5.8) (73500,7.0) (76000,6.0) (78800,5.2) (82000,5.7) (100000,5.8) (105000,5.9) (105600,8.0) (106800,5.0) (108000,5.6) (120000,5.8) (140000,5.75) (160000,5.8) (177500,5.9) (178700,8.0) (180000,6.0) (181400,4.8) (184900,5.4) (190000,5.8) (195400,6.2) (197200,5.3) (200000,5.8) (216800,6.0) (217300,7.5) (217700,4.5) (219100,6.5) (223500,6.5) (226000,6.0) (235700,5.8)};
\addplot[truth] coordinates {(22300,2.86) (22300,12.92)};
\addplot[truth] coordinates {(177800,2.86) (177800,12.92)};
\addplot[truth] coordinates {(194300,2.86) (194300,12.92)};
\addplot[truth] coordinates {(198000,2.86) (198000,12.92)};
\addplot[pred] coordinates {(198300,2.86) (198300,11.75)};
\addplot[pred] coordinates {(199400,2.86) (199400,11.75)};
\addplot[pred] coordinates {(219000,2.86) (219000,11.75)};
\addplot[pred] coordinates {(220400,2.86) (220400,11.75)};
\end{axis}

% ---------------- panel 9
\begin{axis}[panel, at={(28.86pt,-599.52pt)},
  xmin=-29109, xmax=611279, ymin=-0.65, ymax=13.58,
  xtick={0,200000,400000,600000}, xticklabels={0e+00,2e+05,4e+05,6e+05},
  minor xtick={100000,300000,500000},
  ytick={0,5,10}, yticklabels={0,5,10}, minor ytick={2.5,7.5,12.5}]
\addplot[sig] coordinates {(0,6.6) (10000,6.7) (20000,6.55) (30000,6.65) (40000,6.5) (50000,6.7) (60000,6.55) (70000,6.65) (80000,6.5) (90000,6.7) (100000,6.55) (110000,6.6) (112500,6.6) (113500,7.9) (114300,8.0) (115500,7.0) (118600,6.3) (125000,6.45) (135000,6.3) (145000,6.5) (155000,6.35) (165000,6.45) (175000,6.3) (185000,6.5) (196500,6.5) (205000,6.6) (215000,6.45) (225000,6.65) (235000,6.5) (245000,6.6) (255000,6.45) (265000,6.6) (275000,6.5) (285000,6.65) (295000,6.45) (305000,6.6) (313000,6.4) (314700,8.2) (315300,6.3) (316000,11.6) (316600,6.2) (325000,6.15) (335000,6.25) (345000,6.1) (355000,6.2) (365000,6.15) (375000,6.25) (385000,6.1) (390000,6.2) (391300,6.6) (393500,6.8) (396000,6.5) (400000,6.5) (405000,6.3) (407500,6.8) (408700,7.0) (412000,6.6) (420000,6.5) (430000,6.65) (440000,6.5) (450000,6.6) (460000,6.45) (470000,6.65) (480000,6.5) (490000,6.6) (500000,6.45) (510000,6.65) (520000,6.5) (530000,6.6) (540000,6.45) (545500,6.5) (546300,6.9) (547200,6.5) (555000,6.55) (565000,6.45) (575000,6.55) (582000,6.5)
(582000,5.4) (575000,5.3) (565000,5.4) (555000,5.3) (548000,5.4) (546600,3.6) (545500,5.3) (540000,5.35) (530000,5.25) (520000,5.4) (510000,5.3) (500000,5.35) (490000,5.25) (480000,5.4) (470000,5.3) (460000,5.35) (450000,5.25) (440000,5.4) (430000,5.3) (420000,5.35) (410000,5.3) (407000,4.0) (406500,2.3) (405500,4.5) (404500,5.0) (400000,4.8) (397000,5.2) (394500,4.6) (393500,3.6) (392500,4.8) (391300,5.0) (385000,5.35) (375000,5.4) (365000,5.35) (355000,5.4) (345000,5.3) (335000,5.4) (325000,5.35) (318000,5.35) (316300,4.3) (315500,5.3) (305000,5.3) (295000,5.4) (285000,5.3) (275000,5.35) (265000,5.25) (255000,5.4) (245000,5.3) (235000,5.35) (225000,5.25) (215000,5.35) (205000,5.2) (196500,5.25) (185000,5.15) (175000,5.25) (165000,5.15) (155000,5.25) (145000,5.15) (135000,5.2) (125000,5.1) (118600,5.1) (114300,5.0) (113600,0.0) (113000,0.0) (112500,5.0) (110000,5.3) (100000,5.2) (90000,5.3) (80000,5.2) (70000,5.35) (60000,5.25) (50000,5.3) (40000,5.2) (30000,5.3) (20000,5.2) (10000,5.35) (0,5.3)};
\addplot[truth] coordinates {(111250,0) (111250,12.93)};
\addplot[truth] coordinates {(255400,0) (255400,12.93)};
\addplot[truth] coordinates {(272300,0) (272300,12.93)};
\addplot[truth] coordinates {(282250,0) (282250,12.93)};
\addplot[truth] coordinates {(405200,0) (405200,12.93)};
\addplot[pred] coordinates {(255400,0) (255400,11.7)};
\addplot[pred] coordinates {(272300,0) (272300,11.7)};
\addplot[pred] coordinates {(282250,0) (282250,11.7)};
\addplot[pred] coordinates {(298000,0) (298000,11.7)};
\addplot[pred] coordinates {(299300,0) (299300,11.7)};
\end{axis}

% ---------------- panel 10
\begin{axis}[panel, at={(28.86pt,-671.09pt)},
  xmin=-3766, xmax=79091, ymin=4.698, ymax=8.042,
  xtick={0,20000,40000,60000}, xticklabels={0,20000,40000,60000},
  minor xtick={10000,30000,50000,70000},
  ytick={5,6,7,8}, yticklabels={5,6,7,8}, minor ytick={5.5,6.5,7.5}]
\addplot[siglight=0.6] coordinates {(0,6.2) (800,6.4) (1300,6.6) (2500,6.75) (3600,6.8) (4200,6.6) (5800,6.4) (6400,6.5) (8600,6.5) (11400,6.55) (14200,6.5) (16500,6.45) (18100,6.3) (18800,6.5) (19200,7.05) (19600,6.7) (19800,6.5) (22900,6.5) (23200,6.55) (26500,6.5) (31000,6.6) (34000,6.65) (36100,6.5) (37700,6.7) (39000,7.05) (39600,6.7) (40200,7.2) (40800,6.6) (42500,6.3) (45000,6.5) (47800,6.5) (48400,7.0) (49000,6.6) (51200,6.5) (54000,6.55) (55000,7.05) (55600,6.6) (57100,6.3) (60000,6.5) (62900,6.5) (63100,6.9) (63400,6.5) (67000,6.5) (70000,6.55) (72300,6.9) (73000,6.6) (74100,6.4) (75200,6.3)
(75200,5.35) (74100,5.15) (72300,5.5) (70000,5.3) (65000,5.3) (60000,5.25) (57300,5.2) (57100,4.95) (56800,5.2) (55000,5.6) (54000,5.3) (51200,5.25) (49500,5.15) (48400,5.6) (47800,5.3) (45000,5.25) (42500,4.9) (41500,5.25) (40800,5.6) (39500,5.3) (37700,5.2) (36600,4.84) (36000,5.3) (31000,5.3) (28000,5.25) (26500,5.15) (25000,5.3) (23200,5.3) (22900,5.1) (19800,5.1) (19200,5.6) (18600,4.86) (18100,5.2) (16500,5.15) (14200,5.3) (11400,5.3) (8600,5.25) (6400,5.3) (5800,5.0) (4700,5.25) (3600,5.5) (2500,5.3) (1300,5.25) (0,5.05)};
\addplot[draw=sigc, line width=1.5pt] coordinates {(0,5.3) (1300,5.45) (2500,5.55) (3600,5.75) (4700,5.5) (5800,5.25) (6400,5.5) (8600,5.5) (11400,5.55) (14200,5.5) (16500,5.4) (18100,5.45) (18600,5.1) (19200,5.9) (19800,5.4) (22900,5.35) (23200,5.55) (26500,5.4) (28000,5.5) (31000,5.55) (36000,5.55) (36600,5.1) (37700,5.45) (39500,5.6) (40800,5.9) (41500,5.5) (42500,5.15) (45000,5.5) (47800,5.55) (48400,6.05) (49500,5.4) (51200,5.5) (54000,5.55) (55000,5.9) (56800,5.45) (57100,5.2) (57300,5.45) (60000,5.5) (65000,5.55) (70000,5.55) (72300,5.85) (74100,5.4) (75200,5.55)};
\addplot[truth] coordinates {(23100,4.85) (23100,7.89)};
\addplot[truth] coordinates {(31650,4.85) (31650,7.89)};
\addplot[pred] coordinates {(23250,4.85) (23250,7.19)};
\addplot[pred] coordinates {(28560,4.85) (28560,7.19)};
\end{axis}
\end{tikzpicture}
\end{document}
